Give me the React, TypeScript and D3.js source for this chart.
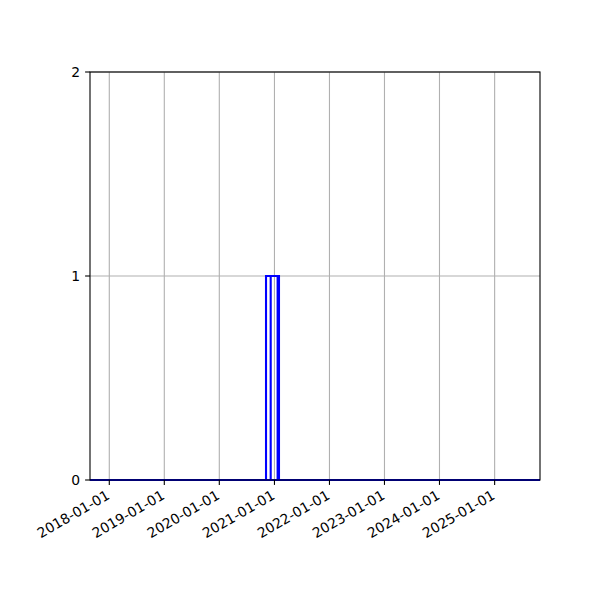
import React, { useEffect, useRef } from 'react';
import * as d3 from 'd3';

// x extent of the axes and the yearly ticks
const xStart = '2017-08-26';
const xEnd = '2025-10-29';
const yearTicks = ['2018-01-01', '2019-01-01', '2020-01-01', '2021-01-01', '2022-01-01', '2023-01-01', '2024-01-01', '2025-01-01'];
const yTicks = [0, 1, 2];

// outlined bars (start, end, count)
const barStarts = ['2020-11-06', '2020-12-07'];
const barEnds = ['2021-01-22', '2021-01-31'];
const barCounts = [1, 1];

const parse = d3.timeParse('%Y-%m-%d');

const App: React.FC = () => {
  const svgRef = useRef<SVGSVGElement>(null);

  useEffect(() => {
    if (!svgRef.current) return;
    const svg = d3.select(svgRef.current);
    svg.selectAll('*').remove();

    const width = 600;
    const height = 600;
    const margin = { top: 72, right: 60, bottom: 120, left: 90 };
    const w = width - margin.left - margin.right;
    const h = height - margin.top - margin.bottom;
    const font = 'DejaVu Sans, sans-serif';
    const fs = 13.9;

    const x = d3.scaleTime()
      .domain([parse(xStart) as Date, parse(xEnd) as Date])
      .range([0, w]);
    const y = d3.scaleLinear().domain([0, 2]).range([h, 0]);

    svg.append('rect').attr('width', width).attr('height', height).attr('fill', '#fff');

    const defs = svg.append('defs');
    defs.append('clipPath').attr('id', 'plot-clip')
      .append('rect').attr('x', -2).attr('width', w + 4).attr('height', h + 2);

    const g = svg.append('g').attr('transform', `translate(${margin.left},${margin.top})`);

    // --- GRID ---
    g.selectAll('.xgrid')
      .data(yearTicks)
      .enter()
      .append('line')
      .attr('x1', d => x(parse(d) as Date)).attr('x2', d => x(parse(d) as Date))
      .attr('y1', 0).attr('y2', h)
      .attr('stroke', '#b0b0b0').attr('stroke-width', 1.1);

    g.selectAll('.ygrid')
      .data(yTicks)
      .enter()
      .append('line')
      .attr('x1', 0).attr('x2', w)
      .attr('y1', d => y(d)).attr('y2', d => y(d))
      .attr('stroke', '#b0b0b0').attr('stroke-width', 1.1);

    // --- BARS (step outline) ---
    const plot = g.append('g').attr('clip-path', 'url(#plot-clip)');
    const dom = x.domain();
    const line = d3.line<[Date, number]>().x(d => x(d[0])).y(d => y(d[1]));

    plot.append('path')
      .datum([[dom[0], 0], [dom[1], 0]] as [Date, number][])
      .attr('d', line)
      .attr('fill', 'none').attr('stroke', '#0000ff').attr('stroke-width', 2.1);

    barStarts.forEach((s, i) => {
      const a = parse(s) as Date;
      const b = parse(barEnds[i]) as Date;
      plot.append('path')
        .datum([[a, 0], [a, barCounts[i]], [b, barCounts[i]], [b, 0]] as [Date, number][])
        .attr('d', line)
        .attr('fill', 'none').attr('stroke', '#0000ff').attr('stroke-width', 2.1);
    });

    // --- SPINES (drawn above the data, as matplotlib does) ---
    g.append('rect')
      .attr('width', w).attr('height', h)
      .attr('fill', 'none').attr('stroke', '#000').attr('stroke-width', 1.1);

    // --- X TICKS ---
    const tickLen = 4.9;
    const xt = g.append('g').attr('transform', `translate(0,${h})`);
    yearTicks.forEach(t => {
      const px = x(parse(t) as Date);
      xt.append('line')
        .attr('x1', px).attr('x2', px).attr('y1', 0).attr('y2', tickLen)
        .attr('stroke', '#000').attr('stroke-width', 1.1);
      const th = fs * 1.164;
      xt.append('text')
        .attr('transform', `translate(${px - th / 2 + 3},${tickLen + 2}) rotate(-30)`)
        .attr('text-anchor', 'end')
        .attr('dy', fs * 0.928)
        .attr('font-family', font)
        .attr('font-size', fs)
        .attr('fill', '#000')
        .text(t);
    });

    // --- Y TICKS ---
    yTicks.forEach(t => {
      g.append('line')
        .attr('x1', -tickLen).attr('x2', 0).attr('y1', y(t)).attr('y2', y(t))
        .attr('stroke', '#000').attr('stroke-width', 1.1);
      g.append('text')
        .attr('x', -tickLen - 4.9)
        .attr('y', y(t))
        .attr('dy', '0.36em')
        .attr('text-anchor', 'end')
        .attr('font-family', font)
        .attr('font-size', fs)
        .attr('fill', '#000')
        .text(String(t));
    });
  }, []);

  return (
    <div style={{ position: 'absolute', left: 0, top: 0 }}>
      <svg ref={svgRef} width={600} height={600} style={{ display: 'block' }} />
    </div>
  );
};

export default App;
